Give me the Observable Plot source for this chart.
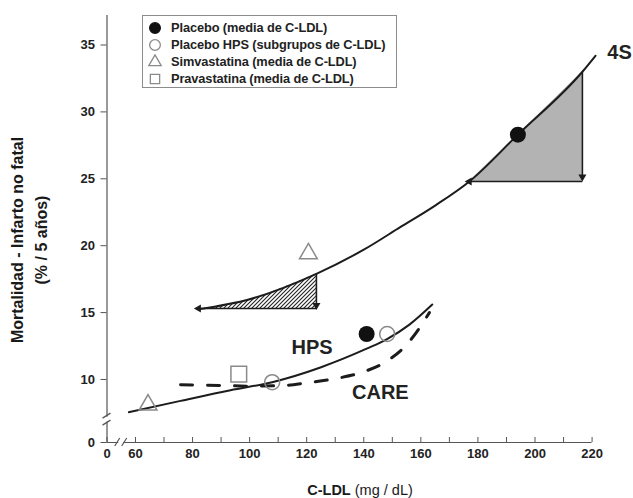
<!DOCTYPE html>
<html>
<head>
<meta charset="utf-8">
<script src="https://cdn.jsdelivr.net/npm/d3@7"></script>
<script src="https://cdn.jsdelivr.net/npm/@observablehq/plot@0.6"></script>
<style>
  html,body{margin:0;padding:0;background:#fff;}
  #wrap{position:relative;width:633px;height:498px;overflow:hidden;font-family:"Liberation Sans",Arial,Helvetica,sans-serif;color:#1a1a1a;}
  #chart{position:absolute;left:0;top:0;}
  .ytitle{position:absolute;top:240px;transform:translate(-50%,-50%) rotate(-90deg);white-space:nowrap;font-weight:bold;font-size:16px;line-height:1;}
  #xtitle{position:absolute;left:360px;top:490px;transform:translate(-50%,-50%);white-space:nowrap;font-size:14.5px;line-height:1;}
  #legend{position:absolute;left:142px;top:15px;width:255px;height:73px;box-sizing:border-box;border:1px solid #8c8c8c;padding:3px 0 0 4px;background:#fff;}
  .lrow{height:17px;display:flex;align-items:center;font-size:12.8px;font-weight:bold;white-space:nowrap;color:#222;letter-spacing:-0.1px;}
  .lrow svg{width:16px;height:16px;margin-right:8px;flex:none;}
</style>
</head>
<body>
<div id="wrap">
  <div id="chart"></div>
  <div id="legend"></div>
  <div class="ytitle" style="left:18px;">Mortalidad - Infarto no fatal</div>
  <div class="ytitle" style="left:42px;">(% / 5 años)</div>
  <div id="xtitle"><b>C-LDL</b> (mg / dL)</div>
</div>
<script>
// ---- data ----
const placeboX = [194, 141];
const placeboY = [28.3, 13.4];
const hpsSubX = [148.2, 107.9];
const hpsSubY = [13.4, 9.8];
const simvaX = [120.6, 64.4];
const simvaY = [19.4, 8.1];
const pravaX = [96.2];
const pravaY = [10.4];

const curve4sX = [82.1, 100, 123.4, 140, 152.9, 165, 177, 194, 216.6, 221.2];
const curve4sY = [15.25, 16.0, 17.9, 19.7, 21.4, 23.0, 24.8, 28.3, 33.0, 34.2];
const curveHpsX = [57.7, 75.8, 93.3, 107.9, 124.8, 141, 148, 156, 164];
const curveHpsY = [7.55, 8.4, 9.2, 9.8, 10.9, 12.3, 13.0, 14.1, 15.6];
const curveCareX = [75.8, 90, 101, 112, 120, 131, 141, 149, 155, 160, 163];
const curveCareY = [9.6, 9.55, 9.5, 9.55, 9.75, 10.1, 10.65, 11.5, 12.6, 14.0, 15.0];

const hatchedRange = [82.1, 123.4];
const hatchedBase = 15.3;
const grayRange = [177, 216.6];
const grayBase = 24.8;

const arrowX1 = [123.4, 123.4, 216.6, 216.6];
const arrowY1 = [17.9, 15.3, 33.0, 24.8];
const arrowX2 = [123.4, 82.1, 216.6, 177];
const arrowY2 = [15.55, 15.3, 25.15, 24.8];
const arrowDir = [180, -90, 180, -90];

const labelText = ["4S", "HPS", "CARE"];
const labelX = [229.6, 121.9, 145.8];
const labelY = [34.4, 12.4, 9.05];

const xTicks = [0, 60, 70, 80, 90, 100, 110, 120, 130, 140, 150, 160, 170, 180, 190, 200, 210, 220];
const xLabelTicks = [0, 60, 80, 100, 120, 140, 160, 180, 200, 220];
const yTicks = [0, 10, 15, 20, 25, 30, 35];
const xBreak = 55;
const yBreak = 7.0;

const legendLabels = ["Placebo (media de C-LDL)", "Placebo HPS (subgrupos de C-LDL)", "Simvastatina (media de C-LDL)", "Pravastatina (media de C-LDL)"];
const legendSymbols = ["circle", "circle", "triangle", "square"];
const legendFills = ["#111", "none", "none", "none"];
const legendStrokes = ["#111", "#8a8a8a", "#8a8a8a", "#8a8a8a"];

// ---- chart ----
const idx = a => a.map((_, i) => i);
const hatchIdx = idx(curve4sX).filter(i => curve4sX[i] >= hatchedRange[0] && curve4sX[i] <= hatchedRange[1]);
const grayIdx = idx(curve4sX).filter(i => curve4sX[i] >= grayRange[0] && curve4sX[i] <= grayRange[1]);
const ink = "#1c1c1c";
const axisInk = "#555";

const chart = Plot.plot({
  width: 633,
  height: 498,
  marginLeft: 106.5,
  marginRight: 36,
  marginTop: 11,
  marginBottom: 56,
  style: {fontFamily: '"Liberation Sans", Arial, sans-serif', fontSize: "13px", fontWeight: "bold", color: "#222", background: "transparent", overflow: "visible"},
  x: {type: "linear", domain: [0, 55, 222], range: [106.5, 120.7, 597.3]},
  y: {type: "linear", domain: [0, 6, 37.5], range: [442, 432.5, 11.05]},
  marks: [
    Plot.areaY(grayIdx, {x: i => curve4sX[i], y1: grayBase, y2: i => curve4sY[i], fill: "#b3b3b3", curve: "monotone-x"}),
    Plot.areaY(hatchIdx, {x: i => curve4sX[i], y1: hatchedBase, y2: i => curve4sY[i], fill: "url(#hatch)", curve: "monotone-x"}),
    Plot.line(idx(curve4sX), {x: i => curve4sX[i], y: i => curve4sY[i], stroke: ink, strokeWidth: 2, curve: "monotone-x"}),
    Plot.line(idx(curveHpsX), {x: i => curveHpsX[i], y: i => curveHpsY[i], stroke: ink, strokeWidth: 2, curve: "monotone-x"}),
    Plot.line(idx(curveCareX), {x: i => curveCareX[i], y: i => curveCareY[i], stroke: ink, strokeWidth: 3, strokeDasharray: "12,15", curve: "monotone-x"}),
    Plot.link(idx(arrowX1), {x1: i => arrowX1[i], y1: i => arrowY1[i], x2: i => arrowX2[i], y2: i => arrowY2[i], stroke: ink, strokeWidth: 1.6}),
    Plot.dot(idx(arrowX2), {x: i => arrowX2[i], y: i => arrowY2[i], symbol: "triangle", r: 3, fill: ink, stroke: "none", rotate: i => arrowDir[i]}),
    Plot.dot(idx(placeboX), {x: i => placeboX[i], y: i => placeboY[i], r: 8, fill: "#111", stroke: "none"}),
    Plot.dot(idx(hpsSubX), {x: i => hpsSubX[i], y: i => hpsSubY[i], r: 7.5, fill: "none", stroke: "#8a8a8a", strokeWidth: 1.5}),
    Plot.dot(idx(simvaX), {x: i => simvaX[i], y: i => simvaY[i], r: 8.5, symbol: "triangle2", fill: "none", stroke: "#8a8a8a", strokeWidth: 1.5}),
    Plot.dot(idx(pravaX), {x: i => pravaX[i], y: i => pravaY[i], r: 10, symbol: "square2", fill: "none", stroke: "#8a8a8a", strokeWidth: 1.5}),
    Plot.text(idx(labelText), {x: i => labelX[i], y: i => labelY[i], text: i => labelText[i], fontSize: 20, fontWeight: "bold", fill: "#222"}),
    Plot.ruleX([0], {y1: 0, y2: 37.2, stroke: axisInk, strokeWidth: 1.2}),
    Plot.ruleY([0], {x1: 0, x2: 220, stroke: axisInk, strokeWidth: 1.2}),
    Plot.axisY({ticks: yTicks, tickSize: 6, tickPadding: 6, label: null, stroke: axisInk, fontSize: 13, fontWeight: "bold"}),
    Plot.axisX({ticks: xTicks, tickSize: -5, tickFormat: () => "", label: null, stroke: axisInk}),
    Plot.axisX({ticks: xLabelTicks, tickSize: 0, tickPadding: 6, label: null, fontSize: 13, fontWeight: "bold"})
  ]
});
document.getElementById("chart").appendChild(chart);

// hatch pattern + axis breaks
const svg = d3.select(chart);
const defs = svg.insert("defs", ":first-child");
const pat = defs.append("pattern").attr("id", "hatch").attr("patternUnits", "userSpaceOnUse").attr("width", 4).attr("height", 4);
pat.append("rect").attr("width", 4).attr("height", 4).attr("fill", "#fff");
pat.append("path").attr("d", "M-1,1 l2,-2 M0,4 l4,-4 M3,5 l2,-2").attr("stroke", "#222").attr("stroke-width", 1.1);

const sx = chart.scale("x"), sy = chart.scale("y");
const x0 = sx.apply(0), y0 = sy.apply(0);
const yb = sy.apply(yBreak), xb = sx.apply(xBreak);
const g = svg.append("g");
g.append("rect").attr("x", x0 - 3).attr("y", yb - 2.5).attr("width", 6).attr("height", 5).attr("fill", "#fff");
g.append("rect").attr("x", xb - 2.5).attr("y", y0 - 3).attr("width", 5).attr("height", 6).attr("fill", "#fff");
const bl = [
  [x0 - 4, yb - 1, x0 + 4, yb - 6], [x0 - 4, yb + 6, x0 + 4, yb + 1],
  [xb - 6, y0 + 4, xb - 1, y0 - 4], [xb + 1, y0 + 4, xb + 6, y0 - 4]
];
g.selectAll("line").data(bl).join("line")
  .attr("x1", d => d[0]).attr("y1", d => d[1]).attr("x2", d => d[2]).attr("y2", d => d[3])
  .attr("stroke", axisInk).attr("stroke-width", 1.2);

// legend
const leg = d3.select("#legend");
legendLabels.forEach((lab, i) => {
  const row = leg.append("div").attr("class", "lrow");
  const s = row.append("svg").attr("viewBox", "-8 -8 16 16");
  const type = legendSymbols[i] === "circle" ? d3.symbolCircle : legendSymbols[i] === "triangle" ? d3.symbolTriangle2 : d3.symbolSquare2;
  s.append("path").attr("d", d3.symbol(type, legendSymbols[i] === "circle" ? 90 : 110)())
    .attr("fill", legendFills[i]).attr("stroke", legendStrokes[i]).attr("stroke-width", 1.3);
  row.append("span").text(lab);
});
</script>
</body>
</html>
